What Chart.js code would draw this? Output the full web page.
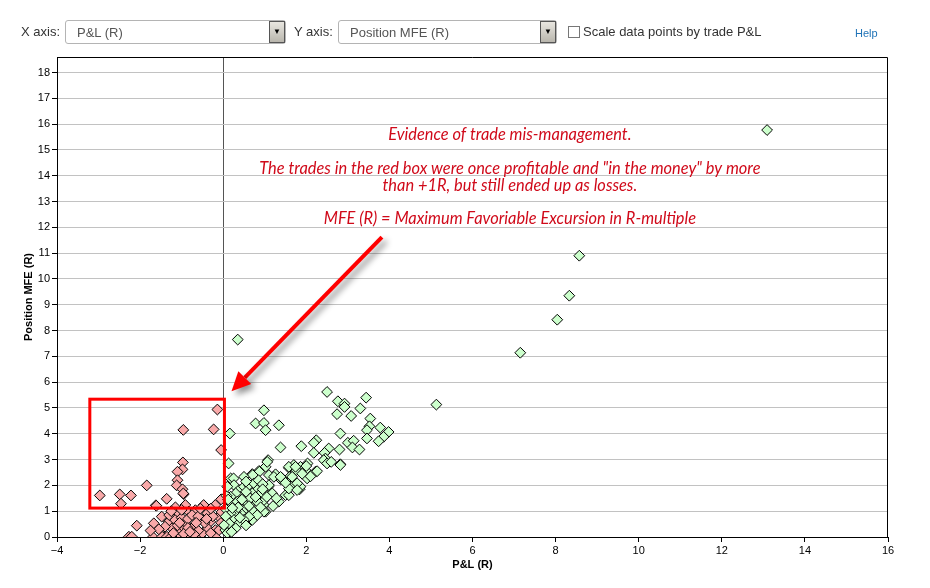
<!DOCTYPE html>
<html>
<head>
<meta charset="utf-8">
<title>MFE vs P&amp;L</title>
<script src="https://cdn.jsdelivr.net/npm/chart.js@4.4.1/dist/chart.umd.min.js"></script>
<style>
  body { margin: 0; background: #fff; font-family: "Liberation Sans", Arial, sans-serif; }
  #wrap { position: relative; width: 930px; height: 588px; overflow: hidden; }
  #chart { position: absolute; left: 0; top: 0; }
  .lbl { position: absolute; top: 24px; font-size: 13px; color: #333; white-space: nowrap; }
  .sel { position: absolute; top: 20px; height: 22px; border: 1px solid #b4b4b4; border-radius: 3px;
         background: #fff; font-size: 13px; color: #555; }
  .sel span { position: absolute; left: 11px; top: 4px; white-space: nowrap; }
  .sel b { position: absolute; right: 0; top: 0; width: 14px; height: 20px; border: 1px solid #555;
           background: linear-gradient(#e8e6e0, #b9b6ad); font-size: 8px; font-weight: normal; color: #000;
           text-align: center; line-height: 20px; }
  .chk { position: absolute; top: 26px; width: 10px; height: 10px; border: 1px solid #777; background: #fff; }
  .help { position: absolute; top: 27px; font-size: 11px; color: #1f73b7; }
</style>
</head>
<body>
<div id="wrap">
  <canvas id="chart" width="930" height="588"></canvas>
  <span class="lbl" style="left:21px">X axis:</span>
  <div class="sel" style="left:65px;width:219px"><span>P&amp;L (R)</span><b>&#9660;</b></div>
  <span class="lbl" style="left:294px">Y axis:</span>
  <div class="sel" style="left:338px;width:217px"><span>Position MFE (R)</span><b>&#9660;</b></div>
  <div class="chk" style="left:568px"></div>
  <span class="lbl" style="left:583px">Scale data points by trade P&amp;L</span>
  <span class="help" style="left:855px">Help</span>
</div>
<script>
// Losing trades (P&L < 0)
const lossX = [
  -0.14, -0.96, -0.23, -0.05, -0.97, -0.98, -1.10, -1.10, -1.12, -0.98, -0.95, -1.84,
  -2.97, -2.49, -2.22, -2.46, -1.36, -1.62, -0.05, -0.96,
  -2.08, -2.27, -2.20, -1.69, -1.43, -1.19, -1.03, -0.55,
  -1.61, -1.15, -0.91, -0.47, -0.19, -1.07, -0.83, -0.67, -0.38, -1.48, -1.67, -1.31,
  -1.16, -0.91, -0.50, -0.31, -0.11, -1.23, -0.99, -0.71, -0.38, -0.19, -1.47, -1.35,
  -1.25, -1.13, -0.93, -0.83, -1.07, -0.50, -0.19, -0.04, -0.10,
  -1.30, -1.00, -0.85, -0.75, -0.60, -0.45, -1.40, -1.10, -0.85, -0.60, -0.30, -1.20,
  -0.70, -0.95, -1.55, -0.25, -0.05, -1.00, -1.25, -0.55, -0.30, -1.75, -0.65, -1.05,
  -0.80, -0.40
];
const lossY = [
  4.94, 4.15, 4.17, 3.37, 2.89, 2.62, 2.53, 2.20, 2.00, 1.85, 1.66, 2.00,
  1.61, 1.65, 1.61, 1.29, 1.48, 1.23, 1.46, 1.69,
  0.44, 0.01, 0.01, 0.00, 0.00, 0.00, 0.00, 0.00,
  1.21, 1.15, 1.24, 1.24, 1.24, 0.92, 0.98, 1.04, 0.92, 0.79, 0.53, 0.59,
  0.66, 0.53, 0.66, 0.59, 0.79, 0.34, 0.27, 0.40, 0.34, 0.27, 0.01, 0.01,
  0.01, 0.01, 0.01, 0.01, 0.14, 0.14, 0.01, 0.97, 0.27,
  0.85, 0.75, 0.70, 0.85, 0.80, 0.55, 0.40, 0.45, 0.35, 0.25, 0.15, 0.15,
  0.10, 0.12, 0.30, 0.80, 0.55, 1.05, 1.00, 1.10, 1.10, 0.25, 0.55, 0.55,
  0.20, 0.70
];

// Winning trades (P&L > 0)
const winX = [
  13.09, 8.57, 8.33, 8.04, 7.15, 5.13, 0.35,
  2.50, 3.44, 2.76, 2.92, 2.92, 3.30, 0.98, 2.74, 3.08, 0.78, 0.98, 1.02, 1.34,
  3.54, 3.52, 3.46, 3.78, 3.98, 3.86, 3.74, 3.46, 2.82, 0.16, 2.24, 2.18, 3.00, 3.14,
  3.11, 3.28, 2.80, 2.54, 1.88, 1.38, 2.18, 2.44, 2.46, 2.42, 2.50, 2.60, 2.82, 2.82,
  2.03, 0.13, 1.08, 1.02, 1.58, 1.70, 1.86, 1.76, 2.22, 1.98, 0.86, 0.70, 1.26, 1.38,
  1.60, 1.66, 1.84, 1.50, 1.34, 1.10, 1.14, 0.98, 1.02, 0.70, 0.46, 0.18, 2.02, 1.86,
  1.58, 1.42, 1.06, 1.58, 1.74, 0.87, 0.71, 0.50, 0.25, 1.10, 1.22, 1.38, 1.66, 1.78,
  1.58, 1.78, 1.10, 1.18, 0.98, 0.98,
  0.26, 0.38, 0.50, 0.62, 0.74, 0.82, 0.90, 0.70, 0.58, 0.42, 0.30, 0.18, 0.18, 0.34,
  0.46, 0.58, 0.70, 0.82, 0.50, 0.66, 0.74, 0.82, 0.62, 0.42, 0.30, 0.18, 0.10, 0.26,
  0.38, 0.50, 0.18, 0.05, 0.30, 0.14, 0.02,
  0.05, 0.08, 0.10, 0.55, 0.85, 0.95, 0.65, 0.55, 0.90, 0.78, 0.36, 0.22, 0.10, 0.20,
  0.06, 0.12, 0.45, 1.20, 1.28, 0.95, 0.62, 0.40, 0.55, 1.05, 1.50, 2.10, 2.26, 2.00,
  1.90
];
const winY = [
  15.77, 10.90, 9.35, 8.42, 7.14, 5.13, 7.65,
  5.62, 5.40, 5.26, 5.17, 5.04, 4.98, 4.91, 4.76, 4.69, 4.40, 4.42, 4.14, 4.33,
  4.59, 4.29, 4.14, 4.24, 4.07, 3.88, 3.71, 3.82, 4.01, 4.01, 3.75, 3.65, 3.65, 3.73,
  3.47, 3.39, 3.39, 3.43, 3.52, 3.47, 3.26, 3.26, 3.04, 2.98, 2.85, 2.91, 2.82, 2.79,
  2.85, 2.85, 2.98, 2.72, 2.68, 2.79, 2.72, 2.59, 2.53, 2.59, 2.56, 2.44, 2.43, 2.24,
  2.33, 2.01, 1.85, 1.62, 1.37, 1.97, 1.69, 1.24, 0.98, 0.66, 0.85, 2.27, 2.27, 1.95,
  1.62, 2.27, 2.91, 2.72, 2.72, 2.53, 2.40, 2.33, 2.27, 2.40, 2.33, 2.33, 2.33, 2.08,
  1.88, 1.82, 2.01, 1.69, 1.43, 0.98,
  2.01, 1.82, 1.95, 2.01, 2.08, 1.82, 1.69, 1.69, 1.62, 1.56, 1.69, 1.56, 1.30, 1.37,
  1.24, 1.30, 1.37, 1.37, 1.04, 1.11, 0.98, 0.85, 0.79, 0.92, 0.98, 0.92, 0.72, 0.66,
  0.53, 0.66, 0.40, 0.27, 0.34, 0.53, 0.46,
  1.10, 1.60, 1.95, 2.15, 2.20, 2.05, 1.50, 1.75, 1.15, 1.55, 1.15, 1.12, 0.15, 0.20,
  0.80, 1.45, 1.45, 1.20, 1.50, 1.85, 1.20, 0.75, 0.45, 1.55, 2.10, 2.35, 2.55, 2.75,
  2.45
];

const xTickValues = [-4, -2, 0, 2, 4, 6, 8, 10, 12, 14, 16];
const yTickValues = [0, 1, 2, 3, 4, 5, 6, 7, 8, 9, 10, 11, 12, 13, 14, 15, 16, 17, 18];

// Annotation, placed in data units
const noteLines = [
  'Evidence of trade mis-management.',
  'The trades in the red box were once profitable and "in the money" by more',
  'than +1R, but still ended up as losses.',
  'MFE (R) = Maximum Favoriable Excursion in R-multiple'
];
const noteX = 6.9;
const noteY = [15.59, 14.27, 13.62, 12.33];
const boxX = [-3.21, 0.03];
const boxY = [1.12, 5.34];
const arrowFrom = [3.82, 11.62];
const arrowTo = [0.2, 5.65];

const toPoints = (xs, ys) => xs.map((x, i) => ({ x: x, y: ys[i] }));

const notesPlugin = {
  id: 'notes',
  afterDatasetsDraw(chart) {
    const { ctx, chartArea, scales: { x, y } } = chart;
    ctx.save();

    // red box
    ctx.strokeStyle = '#ff0000';
    ctx.lineWidth = 3;
    const bx1 = x.getPixelForValue(boxX[0]), bx2 = x.getPixelForValue(boxX[1]);
    const by1 = y.getPixelForValue(boxY[1]), by2 = y.getPixelForValue(boxY[0]);
    ctx.strokeRect(bx1, by1, bx2 - bx1, by2 - by1);

    // arrow with shadow
    const sx = x.getPixelForValue(arrowFrom[0]), sy = y.getPixelForValue(arrowFrom[1]);
    const tx = x.getPixelForValue(arrowTo[0]), ty = y.getPixelForValue(arrowTo[1]);
    const ang = Math.atan2(ty - sy, tx - sx);
    const headLen = 19, headW = 9;
    const bxh = tx - headLen * Math.cos(ang), byh = ty - headLen * Math.sin(ang);
    ctx.shadowColor = 'rgba(0,0,0,0.45)';
    ctx.shadowBlur = 6;
    ctx.shadowOffsetX = 4;
    ctx.shadowOffsetY = 4;
    ctx.strokeStyle = '#ff0000';
    ctx.fillStyle = '#ff0000';
    ctx.lineWidth = 4;
    ctx.beginPath();
    ctx.moveTo(sx, sy);
    ctx.lineTo(bxh, byh);
    ctx.stroke();
    ctx.beginPath();
    ctx.moveTo(tx, ty);
    ctx.lineTo(bxh + headW * Math.sin(ang), byh - headW * Math.cos(ang));
    ctx.lineTo(bxh - headW * Math.sin(ang), byh + headW * Math.cos(ang));
    ctx.closePath();
    ctx.fill();
    ctx.shadowColor = 'transparent';

    // text
    ctx.fillStyle = '#d00a1a';
    ctx.font = 'italic 16.4px Lato, "Open Sans", sans-serif';
    ctx.textAlign = 'center';
    ctx.textBaseline = 'middle';
    noteLines.forEach((t, i) => {
      ctx.fillText(t, x.getPixelForValue(noteX), y.getPixelForValue(noteY[i]));
    });

    // frame on top / right
    ctx.strokeStyle = '#000';
    ctx.lineWidth = 1;
    ctx.beginPath();
    ctx.moveTo(chartArea.left, chartArea.top + 0.5);
    ctx.lineTo(chartArea.right - 0.5, chartArea.top + 0.5);
    ctx.lineTo(chartArea.right - 0.5, chartArea.bottom);
    ctx.stroke();
    ctx.restore();
  }
};

const tickFont = { family: '"Liberation Sans", Arial, sans-serif', size: 11 };
const titleFont = { family: '"Liberation Sans", Arial, sans-serif', size: 11, weight: 'bold' };

new Chart(document.getElementById('chart'), {
  type: 'scatter',
  data: {
    datasets: [
      {
        label: 'Winners',
        data: toPoints(winX, winY),
        pointStyle: 'rectRot',
        pointRadius: 5.4,
        backgroundColor: '#ccffcc',
        borderColor: '#000',
        borderWidth: 1
      },
      {
        label: 'Losers',
        data: toPoints(lossX, lossY),
        pointStyle: 'rectRot',
        pointRadius: 5.4,
        backgroundColor: '#f9a9a9',
        borderColor: '#000',
        borderWidth: 1
      }
    ]
  },
  options: {
    responsive: false,
    animation: false,
    devicePixelRatio: 1,
    layout: { padding: { left: 0, right: 42, top: 57, bottom: 0 } },
    plugins: { legend: { display: false }, tooltip: { enabled: false } },
    scales: {
      x: {
        type: 'linear',
        min: -4,
        max: 16,
        afterBuildTicks: s => { s.ticks = xTickValues.map(v => ({ value: v })); },
        afterFit: s => { s.height = 51; },
        ticks: {
          color: '#000',
          font: tickFont,
          padding: 2,
          callback: v => String(v).replace('-', '\u2212')
        },
        grid: {
          color: c => (c.tick && c.tick.value === 0 ? '#555' : 'rgba(0,0,0,0)'),
          tickColor: '#000',
          tickLength: 5
        },
        border: { color: '#000', width: 1 },
        title: { display: true, text: 'P&L (R)', color: '#000', font: titleFont, padding: { top: 0, bottom: 16 } }
      },
      y: {
        type: 'linear',
        min: 0,
        max: 18.6,
        afterBuildTicks: s => { s.ticks = yTickValues.map(v => ({ value: v })); },
        afterFit: s => { s.width = 57; },
        ticks: { color: '#000', font: tickFont, padding: 2, includeBounds: false },
        grid: { color: '#c2c2c2', tickColor: '#000', tickLength: 5 },
        border: { color: '#000', width: 1 },
        title: { display: true, text: 'Position MFE (R)', color: '#000', font: titleFont, padding: { top: 22, bottom: 0 } }
      }
    }
  },
  plugins: [notesPlugin]
});
</script>
</body>
</html>
